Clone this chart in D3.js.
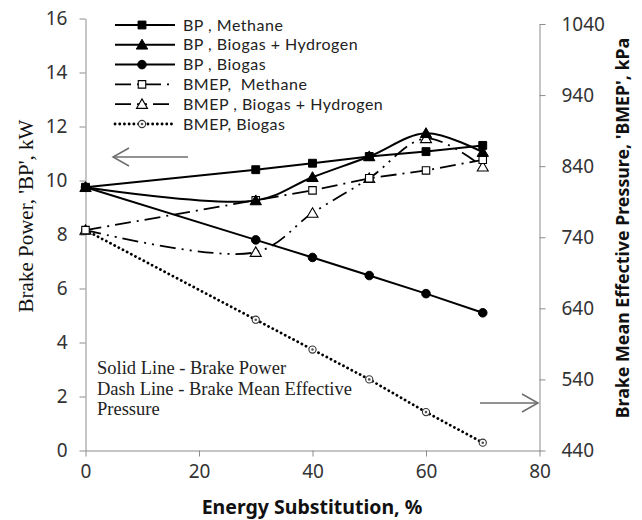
<!DOCTYPE html>
<html>
<head>
<meta charset="utf-8">
<script src="https://cdn.jsdelivr.net/npm/d3@7/dist/d3.min.js"></script>
<style>
  html, body { margin: 0; padding: 0; background: #fff; }
  svg { display: block; }
</style>
</head>
<body>
<svg id="chart" width="642" height="520"></svg>
<script>
// Energy substitution levels (%)
const energySub = [0, 30, 40, 50, 60, 70];

// Brake power, kW
const bpMethane   = [9.75, 10.4, 10.64, 10.89, 11.07, 11.3];
const bpBiogasH2  = [9.75, 9.26, 10.12, 10.89, 11.75, 11.05];
const bpBiogas    = [9.75, 7.8, 7.15, 6.48, 5.81, 5.1];

// Brake mean effective pressure, kPa
const bmepMethane  = [750, 792, 806, 823, 834, 849];
const bmepBiogasH2 = [750, 719, 774, 823, 879, 839];
const bmepBiogas   = [750, 624, 582, 540, 494, 451];

// Axis ticks
const xTicks    = [0, 20, 40, 60, 80];
const bpTicks   = [0, 2, 4, 6, 8, 10, 12, 14, 16];
const bmepTicks = [440, 540, 640, 740, 840, 940, 1040];

const legendLabels = [
  "BP , Methane",
  "BP , Biogas + Hydrogen",
  "BP , Biogas",
  "BMEP,  Methane",
  "BMEP , Biogas + Hydrogen",
  "BMEP, Biogas"
];

const svg = d3.select("#chart");
const axisColor = "#8c8c8c";
const tickFont = "'Noto Sans', 'Open Sans', sans-serif";
const legendFont = "Lato, 'Noto Sans', sans-serif";

const x  = d3.scaleLinear().domain([0, 80]).range([85.5, 539.5]);
const yL = d3.scaleLinear().domain([0, 16]).range([450.5, 18.5]);
const yR = d3.scaleLinear().domain([440, 1040]).range([450.5, 24]);

// ---- axes ----
function styleAxis(g) {
  g.selectAll(".domain").attr("stroke", axisColor).attr("stroke-width", 1);
  g.selectAll(".tick line").attr("stroke", axisColor);
  g.selectAll(".tick text")
    .attr("fill", "#333")
    .style("font-family", tickFont)
    .style("font-size", "19px");
}

svg.append("g")
  .attr("transform", "translate(0,450.5)")
  .call(d3.axisBottom(x).tickValues(xTicks).tickSize(6).tickSizeOuter(0).tickPadding(8))
  .call(styleAxis);

svg.append("g")
  .attr("transform", "translate(85.5,0)")
  .call(d3.axisLeft(yL).tickValues(bpTicks).tickSize(6).tickSizeOuter(0).tickPadding(12))
  .call(styleAxis);

svg.append("g")
  .attr("transform", "translate(539.5,0)")
  .call(d3.axisRight(yR).tickValues(bmepTicks).tickFormat(d3.format("d"))
        .tickSize(6).tickSizeOuter(0).tickPadding(16))
  .call(styleAxis);

// ---- axis titles ----
svg.append("text")
  .attr("x", 312).attr("y", 514)
  .attr("text-anchor", "middle")
  .style("font-family", tickFont).style("font-weight", "bold").style("font-size", "19.5px")
  .attr("fill", "#111")
  .text("Energy Substitution, %");

svg.append("text")
  .attr("transform", "translate(33,216) rotate(-90)")
  .attr("text-anchor", "middle")
  .style("font-family", "'Liberation Serif', 'Times New Roman', serif").style("font-size", "21px")
  .attr("fill", "#111")
  .text("Brake Power, 'BP', kW");

svg.append("text")
  .attr("transform", "translate(629,228) rotate(-90)")
  .attr("text-anchor", "middle")
  .style("font-family", tickFont).style("font-weight", "bold").style("font-size", "17.8px")
  .attr("fill", "#111")
  .text("Brake Mean Effective Pressure, 'BMEP', kPa");

// ---- series ----
const series = [
  { label: legendLabels[0], values: bpMethane,   scale: yL, dash: null, width: 2, curve: d3.curveLinear, marker: "square", filled: true },
  { label: legendLabels[1], values: bpBiogasH2,  scale: yL, dash: null, width: 2, curve: d3.curveCatmullRom, marker: "triangle", filled: true },
  { label: legendLabels[2], values: bpBiogas,    scale: yL, dash: null, width: 2, curve: d3.curveLinear, marker: "circle", filled: true },
  { label: legendLabels[3], values: bmepMethane, scale: yR, dash: "16,6,2,6", width: 1.8, curve: d3.curveLinear, marker: "square", filled: false },
  { label: legendLabels[4], values: bmepBiogasH2,scale: yR, dash: "16,6,2,6,2,6", width: 1.8, curve: d3.curveCatmullRom, marker: "triangle", filled: false },
  { label: legendLabels[5], values: bmepBiogas,  scale: yR, dash: "0.1,4.6", width: 2.8, curve: d3.curveLinear, marker: "dotcircle", filled: false }
];

const plot = svg.append("g");

series.forEach(s => {
  const line = d3.line()
    .x((d, i) => x(energySub[i]))
    .y(d => s.scale(d))
    .curve(s.curve);
  plot.append("path")
    .datum(s.values)
    .attr("d", line)
    .attr("fill", "none")
    .attr("stroke", "#000")
    .attr("stroke-width", s.width)
    .attr("stroke-dasharray", s.dash)
    .attr("stroke-linecap", s.marker === "dotcircle" ? "round" : "butt");
});

function drawMarker(g, s, cx, cy) {
  if (s.marker === "dotcircle") {
    g.append("circle").attr("cx", cx).attr("cy", cy).attr("r", 3.6)
      .attr("fill", "#fff").attr("stroke", "#333").attr("stroke-width", 1.1);
    g.append("circle").attr("cx", cx).attr("cy", cy).attr("r", 1.3).attr("fill", "#555");
    return;
  }
  const type = s.marker === "square" ? d3.symbolSquare
             : s.marker === "triangle" ? d3.symbolTriangle : d3.symbolCircle;
  const size = s.filled
    ? (s.marker === "square" ? 62 : s.marker === "triangle" ? 56 : 58)
    : (s.marker === "square" ? 56 : 52);
  const dy = s.marker === "triangle" ? 1 : 0;
  g.append("path")
    .attr("d", d3.symbol().type(type).size(size)())
    .attr("transform", `translate(${cx},${cy + dy})`)
    .attr("fill", s.filled ? "#000" : "#fff")
    .attr("stroke", "#000")
    .attr("stroke-width", s.filled ? 1 : 1.1);
}

series.slice().reverse().forEach(s => {
  s.values.forEach((v, i) => drawMarker(plot, s, x(energySub[i]), s.scale(v)));
});

// ---- legend ----
const legend = svg.append("g");
series.forEach((s, i) => {
  const ly = 25 + i * 19.8;
  legend.append("line")
    .attr("x1", 115).attr("x2", 175).attr("y1", ly).attr("y2", ly)
    .attr("stroke", "#000")
    .attr("stroke-width", s.width)
    .attr("stroke-dasharray", s.dash)
    .attr("stroke-linecap", s.marker === "dotcircle" ? "round" : "butt");
  drawMarker(legend, s, 142, ly);
  legend.append("text")
    .attr("x", 183).attr("y", ly + 5.5)
    .style("font-family", legendFont).style("font-size", "16px")
    .style("letter-spacing", "0.5px")
    .style("white-space", "pre")
    .attr("fill", "#222")
    .text(s.label);
});

// ---- direction arrows ----
const arrowColor = "#6e6e6e";
function arrow(x1, x2, yy, dir) {
  const tip = dir < 0 ? x1 : x2;
  svg.append("line").attr("x1", x1).attr("x2", x2).attr("y1", yy).attr("y2", yy)
    .attr("stroke", arrowColor).attr("stroke-width", 1.5);
  svg.append("path")
    .attr("d", `M${tip - dir * 16},${yy - 9}L${tip},${yy}L${tip - dir * 16},${yy + 9}`)
    .attr("fill", "none").attr("stroke", arrowColor).attr("stroke-width", 1.5);
}
arrow(113, 188, 157, -1);
arrow(480, 538, 403, 1);

// ---- note ----
const note = ["Solid Line - Brake Power", "Dash Line - Brake Mean Effective", "Pressure"];
svg.append("g").selectAll("text").data(note).join("text")
  .attr("x", 97).attr("y", (d, i) => 374 + i * 20.5)
  .style("font-family", "'Liberation Serif', 'Times New Roman', serif").style("font-size", "18.5px")
  .attr("fill", "#222")
  .text(d => d);
</script>
</body>
</html>
